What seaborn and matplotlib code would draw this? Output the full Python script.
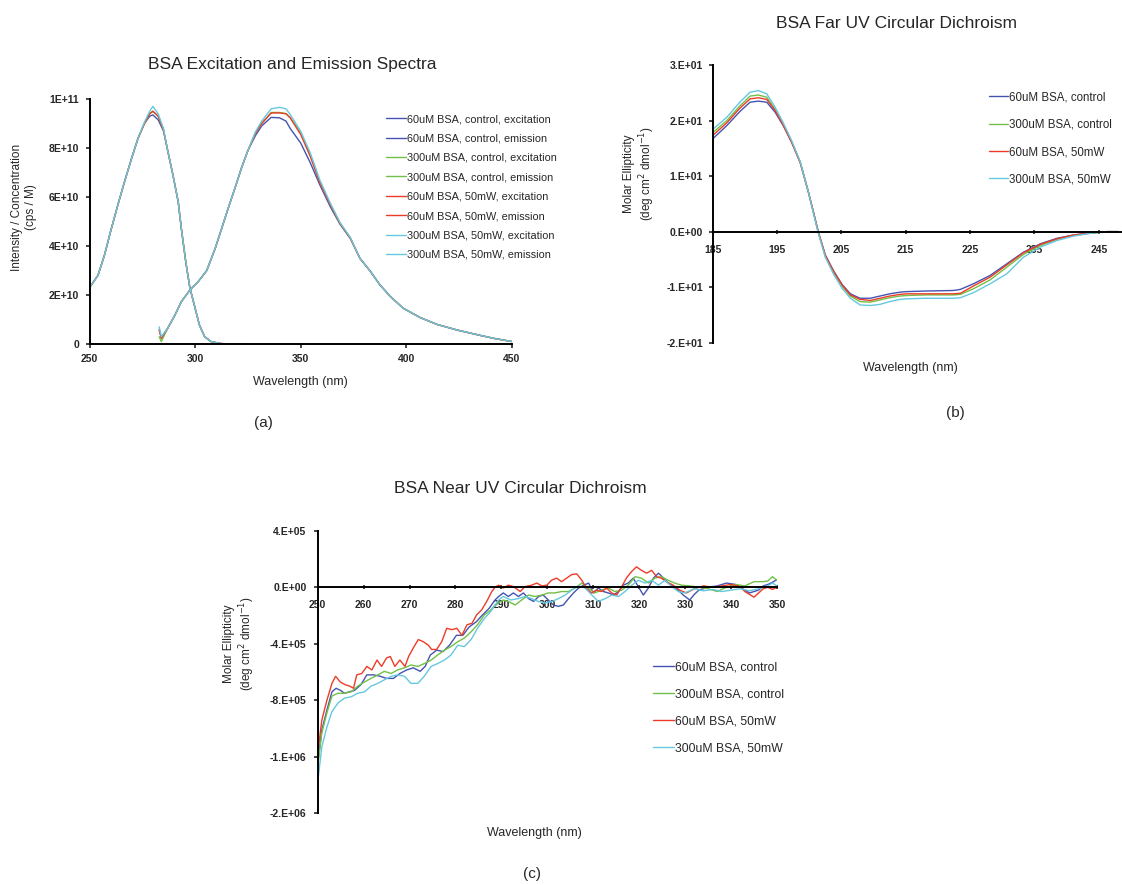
import matplotlib
matplotlib.use("Agg")
import numpy as np
import pandas as pd
import seaborn as sns
import matplotlib.pyplot as plt

### 1. Data
# (a) excitation / emission spectra, intensity in units of 1E+10 cps/M
ex_nm_blue = [250, 254, 257, 260, 263.5, 266.5, 270, 273, 276, 278.5, 280, 282.5, 285,
              287, 289.5, 292, 293.5, 295.5, 297.5, 300, 302, 304.5, 307.5, 312, 316, 320]
ex_blue = [2.3, 2.8, 3.6, 4.6, 5.7, 6.6, 7.6, 8.4, 9.0, 9.3, 9.35, 9.15, 8.7,
           7.9, 6.9, 5.8, 4.7, 3.4, 2.3, 1.46, 0.78, 0.3, 0.1, 0.02, 0.0, 0.0]
ex_nm_green = ex_nm_blue
ex_green = [2.3, 2.8, 3.6, 4.6, 5.7, 6.6, 7.6, 8.4, 9.0, 9.4, 9.5, 9.3, 8.75,
            7.9, 6.9, 5.8, 4.7, 3.4, 2.3, 1.46, 0.78, 0.3, 0.1, 0.02, 0.0, 0.0]
ex_nm_red = [250, 254, 257, 260, 263.5, 266.5, 270, 273, 276, 278.5, 280, 282.5, 285,
             287, 289.5, 292, 293.5, 295.5, 297.5, 300, 302, 304.5, 307.5, 312, 316, 320, 325]
ex_red = [2.3, 2.8, 3.6, 4.6, 5.7, 6.6, 7.6, 8.4, 9.0, 9.4, 9.5, 9.3, 8.75,
          7.9, 6.9, 5.8, 4.7, 3.4, 2.3, 1.46, 0.78, 0.3, 0.1, 0.02, 0.0, 0.0, 0.0]
ex_nm_cyan = [250, 254, 257, 260, 263.5, 266.5, 270, 273, 276, 278.5, 280, 282.5, 285,
              287, 289.5, 292, 293.5, 295.5, 297.5, 300, 302, 304.5, 307.5, 312, 316]
ex_cyan = [2.3, 2.8, 3.6, 4.6, 5.7, 6.6, 7.6, 8.4, 9.05, 9.5, 9.7, 9.4, 8.8,
           7.9, 6.9, 5.8, 4.7, 3.4, 2.3, 1.46, 0.78, 0.3, 0.1, 0.02, 0.0]

em_nm = [283, 284, 287, 290.5, 293.5, 297.5, 301.5, 305.5, 309.5, 312.5, 315.5, 319, 322,
         325, 328.5, 331.5, 336, 340, 343, 345, 350, 354.5, 359, 364, 368.5, 373.5, 378,
         383, 387.5, 392.5, 398.5, 406.5, 414.5, 424, 435, 442, 450]
em_blue = [0.6, 0.25, 0.64, 1.19, 1.73, 2.2, 2.55, 3.0, 3.9, 4.7, 5.5, 6.4, 7.2,
           7.9, 8.5, 8.9, 9.25, 9.23, 9.1, 8.8, 8.2, 7.4, 6.5, 5.6, 4.9, 4.3, 3.5,
           2.96, 2.41, 1.93, 1.46, 1.08, 0.8, 0.57, 0.35, 0.22, 0.1]
em_green = [0.3, 0.1, 0.64, 1.19, 1.73, 2.2, 2.55, 3.0, 3.9, 4.7, 5.5, 6.4, 7.2,
            7.9, 8.6, 9.0, 9.45, 9.45, 9.4, 9.25, 8.6, 7.7, 6.6, 5.7, 4.94, 4.32, 3.5,
            2.96, 2.41, 1.93, 1.46, 1.08, 0.8, 0.57, 0.35, 0.22, 0.1]
em_red = [0.57, 0.23, 0.64, 1.19, 1.73, 2.2, 2.55, 3.0, 3.9, 4.7, 5.5, 6.4, 7.2,
          7.9, 8.6, 9.0, 9.43, 9.43, 9.4, 9.23, 8.55, 7.66, 6.6, 5.69, 4.94, 4.32, 3.5,
          2.96, 2.41, 1.93, 1.46, 1.08, 0.8, 0.57, 0.35, 0.22, 0.1]
em_cyan = [0.7, 0.3, 0.64, 1.19, 1.73, 2.2, 2.55, 3.0, 3.9, 4.7, 5.5, 6.4, 7.2,
           7.9, 8.65, 9.1, 9.6, 9.66, 9.6, 9.37, 8.68, 7.8, 6.7, 5.75, 4.97, 4.34, 3.5,
           2.96, 2.41, 1.93, 1.46, 1.08, 0.8, 0.57, 0.35, 0.22, 0.1]

labels_a = ["60uM BSA, control, excitation", "60uM BSA, control, emission",
            "300uM BSA, control, excitation", "300uM BSA, control, emission",
            "60uM BSA, 50mW, excitation", "60uM BSA, 50mW, emission",
            "300uM BSA, 50mW, excitation", "300uM BSA, 50mW, emission"]

# (b) far UV CD, molar ellipticity (1E+01 = 10)
far_nm = [185, 187.2, 189.2, 190.8, 192.1, 193.4, 194.7, 196, 197.3, 198.6, 199.9, 200.7,
          201.4, 202.5, 203.8, 205.1, 206.4, 207.9, 209.5, 211, 212.5, 214.1, 215.2, 218,
          222.4, 223.5, 225.5, 228.1, 230.7, 233.3, 235.9, 238.5, 241.1, 243.7, 246.3, 248]
far_blue = [16.7, 19.1, 21.6, 23.3, 23.5, 23.3, 21.5, 19.0, 16.0, 12.4, 7.0, 3.3,
            0.0, -4.2, -7.1, -9.5, -11.2, -12.0, -12.0, -11.6, -11.2, -10.9, -10.8, -10.7,
            -10.6, -10.4, -9.4, -7.9, -5.8, -3.7, -2.2, -1.2, -0.6, -0.24, 0.0, 0.0]
far_green = [17.8, 20.0, 22.6, 24.4, 24.6, 24.2, 22.0, 19.2, 16.1, 12.5, 7.0, 3.2,
             -0.1, -4.4, -7.4, -9.8, -11.6, -12.6, -12.7, -12.3, -11.9, -11.6, -11.5, -11.4,
             -11.4, -11.3, -10.3, -8.7, -6.4, -4.1, -2.5, -1.4, -0.7, -0.3, 0.0, 0.0]
far_red = [17.3, 19.6, 22.2, 23.9, 24.1, 23.8, 21.8, 19.1, 16.0, 12.5, 7.0, 3.3,
           0.0, -4.3, -7.2, -9.6, -11.4, -12.2, -12.4, -12.0, -11.6, -11.3, -11.2, -11.2,
           -11.2, -11.1, -9.8, -8.2, -6.0, -3.8, -2.3, -1.3, -0.6, -0.25, 0.0, 0.0]
far_cyan = [18.4, 20.6, 23.3, 25.1, 25.4, 24.8, 22.4, 19.5, 16.3, 12.6, 7.0, 3.1,
            -0.2, -4.6, -7.7, -10.2, -12.0, -13.2, -13.3, -13.1, -12.6, -12.2, -12.1, -12.0,
            -12.0, -11.9, -11.0, -9.4, -7.6, -4.6, -2.8, -1.6, -0.8, -0.3, 0.0, 0.0]

labels_bc = ["60uM BSA, control", "300uM BSA, control", "60uM BSA, 50mW", "300uM BSA, 50mW"]

# (c) near UV CD, (wavelength, molar ellipticity in units of 1E+05)
near_blue = [(250, -12.5), (250.9, -10.1), (252, -8.7), (253.1, -7.4), (254, -7.15),
             (255, -7.3), (255.8, -7.5), (256.9, -7.4), (258, -7.3), (259.4, -6.9),
             (260.7, -6.2), (262.2, -6.2), (263.6, -6.3), (265, -6.45), (266.5, -6.45),
             (267.9, -6.1), (269.4, -5.85), (270.8, -5.7), (272.3, -5.95), (273.4, -5.6),
             (274.5, -4.8), (275.9, -4.45), (277.3, -4.55), (278.7, -4.1), (280.2, -3.4),
             (281.6, -3.4), (283, -2.8), (284.5, -2.45), (285.9, -1.95), (287.3, -1.5),
             (288.6, -0.9), (289.4, -0.65), (290.4, -0.4), (291.5, -0.65), (292.6, -0.4),
             (293.7, -0.65), (294.8, -0.4), (295.9, -0.8), (297, -1.0), (298.1, -0.65),
             (299.1, -0.55), (300.2, -0.9), (301.3, -1.25), (302.4, -1.35), (303.5, -1.25),
             (304.6, -0.8), (305.7, -0.4), (306.8, -0.05), (307.9, 0.15), (309, 0.3),
             (310, -0.4), (311.1, -0.05), (312.2, -0.3), (313.3, -0.4), (314.4, -0.55),
             (315.5, -0.3), (316.5, 0.15), (317.6, 0.3), (318.7, 0.65), (319.8, 0.05),
             (320.9, -0.55), (322, -0.05), (323.1, 0.65), (324.2, 1.0), (325.3, 0.65),
             (326.3, 0.3), (327.4, 0.05), (328.5, -0.2), (329.6, -0.55), (331, -0.9),
             (332, -0.5), (333, -0.2), (335, 0.0), (337, 0.1), (339, 0.3), (341, 0.2),
             (343, -0.2), (344, -0.4), (345, -0.3), (346, -0.2), (347, 0.1), (348, 0.2),
             (349, 0.35), (350, 0.55)]
near_green = [(250, -12.7), (250.9, -10.3), (252, -8.9), (253.1, -7.7), (254.4, -7.5),
              (255.8, -7.5), (257.3, -7.4), (258.7, -7.0), (260.2, -6.7), (261.6, -6.45),
              (263.1, -6.2), (264.5, -5.95), (266, -6.1), (267.4, -5.85), (268.9, -5.7),
              (270.3, -5.5), (271.8, -5.6), (273.2, -5.4), (274.7, -5.15), (276.1, -4.8),
              (277.6, -4.45), (279, -4.2), (280.5, -3.85), (281.9, -3.6), (283.4, -3.15),
              (284.8, -2.65), (286.3, -1.95), (287.7, -1.6), (288.6, -1.25), (290.4, -0.9),
              (291.5, -1.0), (293, -1.25), (294.4, -0.9), (295.9, -0.55), (297.3, -0.65),
              (298.8, -0.55), (300.2, -0.4), (301.6, -0.4), (303.1, -0.3), (304.6, -0.3),
              (306, -0.05), (307.5, 0.3), (308.9, -0.05), (310.3, -0.4), (311.8, -0.2),
              (313.3, -0.05), (314.7, -0.3), (316.2, -0.2), (317.6, 0.15), (319.1, 0.75),
              (320.5, 0.65), (322, 0.3), (323.4, 0.65), (324.8, 0.75), (326.3, 0.5),
              (327.7, 0.3), (329.2, 0.15), (331, 0.1), (333, 0.0), (335, -0.1),
              (337, -0.3), (339, 0.0), (341, 0.2), (343, 0.1), (345, 0.4), (347, 0.4),
              (348, 0.45), (349, 0.75), (350, 0.5)]
near_red = [(250, -11.75), (250.9, -9.4), (252, -8.0), (253.1, -6.8), (253.9, -6.3),
            (254.9, -6.7), (256, -6.9), (257, -7.0), (257.8, -7.15), (258.5, -6.2),
            (259.6, -6.1), (260.7, -5.6), (261.8, -5.85), (262.9, -5.15), (263.9, -5.6),
            (265, -5.0), (265.8, -4.9), (266.8, -5.6), (267.9, -5.15), (269, -5.6),
            (269.8, -4.9), (270.8, -4.3), (271.9, -3.7), (273, -3.85), (274.1, -4.1),
            (274.8, -4.4), (275.9, -4.4), (277, -3.85), (278.1, -2.9), (279.2, -3.0),
            (280.3, -2.9), (281.4, -3.4), (282.5, -2.65), (283.6, -2.55), (284.6, -1.95),
            (285.7, -1.6), (286.8, -1.0), (287.9, -0.3), (288.6, 0.0), (289.4, 0.15),
            (290.4, -0.05), (291.5, 0.15), (292.6, 0.05), (294.1, -0.3), (295.1, 0.05),
            (296.6, 0.15), (297.7, 0.3), (298.8, 0.1), (299.9, 0.15), (300.9, 0.5),
            (302, 0.65), (303.1, 0.4), (304.2, 0.65), (305.3, 0.9), (306.4, 0.95),
            (307.5, 0.5), (308.5, -0.05), (309.6, -0.4), (310.7, -0.2), (311.8, -0.3),
            (312.9, -0.05), (314, -0.4), (315.1, -0.55), (316.2, 0.05), (317.2, 0.65),
            (318.3, 1.1), (319.4, 1.45), (320.5, 1.2), (321.6, 1.0), (322.7, 1.2),
            (323.8, 0.75), (324.8, 0.65), (325.9, 0.4), (327.4, 0.15), (328.8, -0.2),
            (330.3, -0.4), (332, -0.1), (334, 0.1), (336, 0.0), (338, 0.1), (340, 0.2),
            (342, 0.05), (343, -0.3), (344, -0.5), (345, -0.7), (346, -0.4), (347, -0.1),
            (348, 0.0), (349, -0.15), (350, 0.0)]
near_cyan = [(250, -13.8), (250.9, -11.3), (252, -9.9), (253.1, -8.8), (254.4, -8.2),
             (255.8, -7.85), (257.3, -7.75), (258.7, -7.5), (260.2, -7.4), (261.6, -7.0),
             (263.1, -6.8), (264.5, -6.55), (266, -6.3), (267.4, -6.2), (268.9, -6.3),
             (270.3, -6.8), (271.8, -6.8), (273.2, -6.3), (274.7, -5.6), (276.1, -5.4),
             (277.6, -5.15), (279, -4.8), (280.5, -4.1), (281.9, -4.2), (283.4, -3.7),
             (284.8, -2.9), (286.3, -2.2), (287.7, -1.7), (289.4, -0.9), (290.4, -0.65),
             (292, -0.9), (293.7, -0.8), (295.1, -0.65), (296.6, -0.8), (298, -1.0),
             (299.5, -1.1), (301, -1.0), (302.4, -0.8), (303.9, -0.55), (305.3, -0.2),
             (306.8, 0.1), (308.2, -0.05), (309.7, -0.55), (311.1, -1.0), (312.6, -0.8),
             (314, -0.55), (315.5, -0.65), (316.9, -0.3), (318.4, 0.15), (319.8, 0.5),
             (321.3, 0.3), (322.7, 0.5), (324.2, 0.15), (325.6, 0.5), (327.1, 0.05),
             (328.5, -0.3), (329.9, -0.4), (332, -0.1), (334, -0.25), (336, -0.15),
             (338, -0.3), (340, -0.2), (342, -0.1), (344, -0.25), (346, -0.1),
             (348, 0.1), (349, 0.3), (350, 0.1)]

colors = ["#4454b0", "#72c046", "#ec3c28", "#66c8e0"]

### 2. Figure set up (pixel helpers for a 1122x885 canvas)
sns.set_style("white")
plt.rcParams['font.family'] = ['Liberation Sans', 'DejaVu Sans']
W, H = 1122, 885
fig = plt.figure(figsize=(W / 100, H / 100), dpi=100)


def box(x0, y0, x1, y1):
    return [x0 / W, 1 - y1 / H, (x1 - x0) / W, (y1 - y0) / H]


def at(x, y):
    return x / W, 1 - y / H


def style_ticks(ax, xpad, ypad, xdir):
    for s in ["top", "right"]:
        ax.spines[s].set_visible(False)
    for s in ["left", "bottom"]:
        ax.spines[s].set_linewidth(1.4)
        ax.spines[s].set_color("black")
    ax.tick_params(axis="y", direction="out", length=3, width=1.2, pad=ypad, left=True)
    ax.tick_params(axis="x", direction=xdir, length=3, width=1.2, pad=xpad, bottom=True)
    ax.set_xlabel("")
    ax.set_ylabel("")


ylab_bc = "Molar Ellipticity\n(deg cm$^{2}$ dmol$^{-1}$)"
LW = 1.0
TK = dict(fontsize=7.5, fontweight="bold")

### 3. (a) excitation and emission spectra
rows = []
pairs = [(ex_nm_blue, ex_blue, em_nm, em_blue), (ex_nm_green, ex_green, em_nm, em_green),
         (ex_nm_red, ex_red, em_nm, em_red), (ex_nm_cyan, ex_cyan, em_nm, em_cyan)]
for i, (xn, xv, mn, mv) in enumerate(pairs):
    for n, v in zip(xn, xv):
        rows.append((labels_a[2 * i], n, v * 1e10))
    for n, v in zip(mn, mv):
        rows.append((labels_a[2 * i + 1], n, v * 1e10))
df_a = pd.DataFrame(rows, columns=["series", "nm", "val"])
pal_a = {lab: colors[k // 2] for k, lab in enumerate(labels_a)}

ax_a = fig.add_axes(box(89.5, 99, 512, 344))
sns.lineplot(data=df_a, x="nm", y="val", hue="series", hue_order=labels_a, palette=pal_a,
             estimator=None, linewidth=LW, legend=False, ax=ax_a)
ax_a.set_xlim(250, 450)
ax_a.set_ylim(0, 1e11)
ax_a.set_xticks([250, 300, 350, 400, 450], ["250", "300", "350", "400", "450"], **TK)
ax_a.set_yticks([0, 2e10, 4e10, 6e10, 8e10, 1e11],
                ["0", "2E+10", "4E+10", "6E+10", "8E+10", "1E+11"], **TK)
style_ticks(ax_a, 4, 4.5, "out")
ax_a.legend(ax_a.lines, labels_a, loc="upper left", bbox_to_anchor=at(386, 114),
            bbox_transform=fig.transFigure, frameon=False, fontsize=7.8, labelspacing=0.87,
            handlelength=1.83, handletextpad=0.1, borderpad=0, borderaxespad=0)
fig.text(*at(292, 64), "BSA Excitation and Emission Spectra", ha="center", va="center",
         fontsize=12.5)
fig.text(*at(24, 207), "Intensity / Concentration\n(cps / M)", rotation=90, ha="center",
         va="center", fontsize=8.5, multialignment="center")
fig.text(*at(300, 382), "Wavelength (nm)", ha="center", va="center", fontsize=9)
fig.text(*at(263, 423), "(a)", ha="center", va="center", fontsize=11)

### 4. (b) far UV CD
df_b = pd.DataFrame({"nm": far_nm * 4,
                     "val": far_blue + far_green + far_red + far_cyan,
                     "series": sum([[lab] * len(far_nm) for lab in labels_bc], [])})
ax_b = fig.add_axes(box(712.7, 65, 1121, 342.7))
sns.lineplot(data=df_b, x="nm", y="val", hue="series", hue_order=labels_bc,
             palette=colors, estimator=None, linewidth=LW, legend=False, ax=ax_b)
ax_b.set_xlim(185, 248.45)
ax_b.set_ylim(-20, 30)
ax_b.spines["bottom"].set_position(("data", 0))
ax_b.set_xticks([185, 195, 205, 215, 225, 235, 245],
                ["185", "195", "205", "215", "225", "235", "245"], **TK)
ax_b.set_yticks([-20, -10, 0, 10, 20, 30],
                ["-2.E+01", "-1.E+01", "0.E+00", "1.E+01", "2.E+01", "3.E+01"], **TK)
style_ticks(ax_b, 8, 4, "inout")
ax_b.legend(ax_b.lines, labels_bc, loc="upper left", bbox_to_anchor=at(989, 91.5),
            bbox_transform=fig.transFigure, frameon=False, fontsize=8.3, labelspacing=1.33,
            handlelength=1.63, handletextpad=0.1, borderpad=0, borderaxespad=0)
fig.text(*at(897, 23), "BSA Far UV Circular Dichroism", ha="center", va="center", fontsize=12.5)
fig.text(*at(640, 174), ylab_bc, rotation=90, ha="center", va="center", fontsize=8.5,
         multialignment="center")
fig.text(*at(910, 368), "Wavelength (nm)", ha="center", va="center", fontsize=9)
fig.text(*at(955, 413), "(b)", ha="center", va="center", fontsize=11)

### 5. (c) near UV CD
rows = []
for lab, ser in zip(labels_bc, [near_blue, near_green, near_red, near_cyan]):
    for n, v in ser:
        rows.append((lab, n, v * 1e5))
df_c = pd.DataFrame(rows, columns=["series", "nm", "val"])
ax_c = fig.add_axes(box(317.7, 530.8, 777, 813.3))
sns.lineplot(data=df_c, x="nm", y="val", hue="series", hue_order=labels_bc,
             palette=colors, estimator=None, linewidth=LW, legend=False, ax=ax_c)
ax_c.set_xlim(250, 350)
ax_c.set_ylim(-1.6e6, 4e5)
ax_c.spines["bottom"].set_position(("data", 0))
ax_c.set_xticks(np.arange(250, 351, 10), [str(v) for v in range(250, 351, 10)], **TK)
ax_c.set_yticks([-1.6e6, -1.2e6, -8e5, -4e5, 0, 4e5],
                ["-2.E+06", "-1.E+06", "-8.E+05", "-4.E+05", "0.E+00", "4.E+05"], **TK)
style_ticks(ax_c, 8, 5, "inout")
ax_c.legend(ax_c.lines, labels_bc, loc="upper left", bbox_to_anchor=at(653, 661.7),
            bbox_transform=fig.transFigure, frameon=False, fontsize=8.8, labelspacing=1.22,
            handlelength=1.7, handletextpad=0.1, borderpad=0, borderaxespad=0)
fig.text(*at(520, 489), "BSA Near UV Circular Dichroism", ha="center", va="center",
         fontsize=12.5)
fig.text(*at(240, 644), ylab_bc, rotation=90, ha="center", va="center", fontsize=8.5,
         multialignment="center")
fig.text(*at(534, 833), "Wavelength (nm)", ha="center", va="center", fontsize=9)
fig.text(*at(532, 874), "(c)", ha="center", va="center", fontsize=11)

fig.savefig("out.png", dpi=100)
